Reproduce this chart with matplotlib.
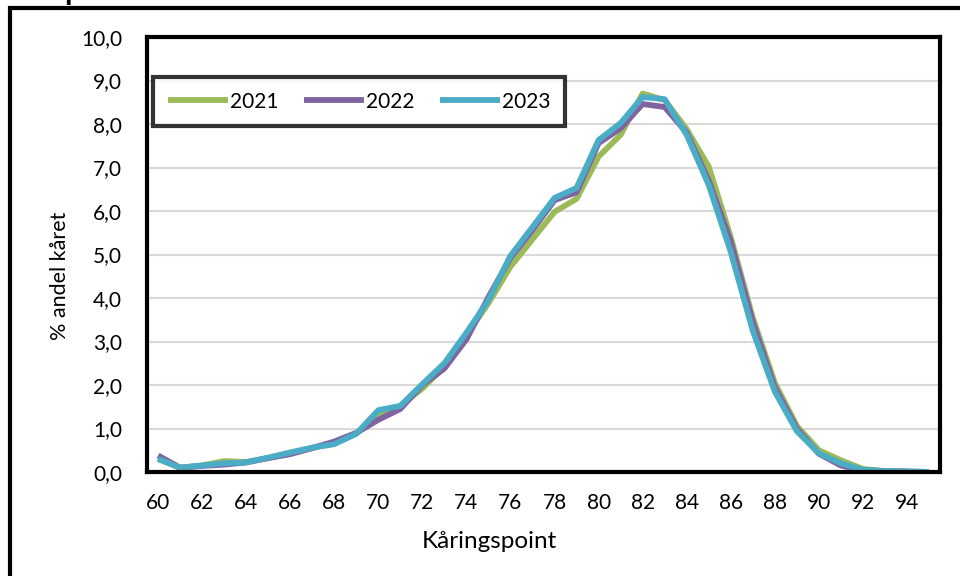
import matplotlib
matplotlib.use("Agg")
import matplotlib.pyplot as plt
from matplotlib.lines import Line2D
import numpy as np

plt.rcParams['font.family'] = ['Lato', 'DejaVu Sans']

points = list(range(60, 96))
y2021 = [0.3, 0.1, 0.15, 0.25, 0.23, 0.32, 0.43, 0.55, 0.66, 0.88, 1.3, 1.52, 1.92, 2.42, 3.15, 3.88,
         4.72, 5.35, 5.98, 6.28, 7.25, 7.75, 8.7, 8.55, 7.88, 7.02, 5.4, 3.55, 2.05, 1.06, 0.5, 0.27,
         0.07, 0.02, 0.01, 0.0]
y2022 = [0.38, 0.1, 0.14, 0.17, 0.22, 0.32, 0.41, 0.55, 0.7, 0.9, 1.2, 1.45, 2.0, 2.38, 3.05, 4.02,
         4.92, 5.56, 6.25, 6.43, 7.56, 7.9, 8.46, 8.39, 7.8, 6.7, 5.3, 3.45, 1.95, 1.0, 0.42, 0.15,
         0.04, 0.02, 0.01, 0.0]
y2023 = [0.3, 0.1, 0.15, 0.2, 0.22, 0.33, 0.45, 0.56, 0.64, 0.88, 1.42, 1.52, 2.02, 2.5, 3.2, 3.95,
         4.97, 5.63, 6.3, 6.53, 7.63, 8.02, 8.62, 8.57, 7.75, 6.6, 5.06, 3.25, 1.85, 0.94, 0.43, 0.2,
         0.05, 0.02, 0.01, 0.0]
series = [("2021", y2021, "#9BBB59"), ("2022", y2022, "#8064A2"), ("2023", y2023, "#4BACC6")]
xtick_labels = [str(v) for v in range(60, 96, 2)]
ytick_vals = [i for i in range(0, 11)]

fig = plt.figure(figsize=(9.6, 5.76), dpi=100)
ax = fig.add_axes([147/960, 1-472/576, (940-147)/960, (472-37)/576])

for name, vals, col in series:
    ax.plot(points, vals, color=col, lw=4.2, label=name, solid_joinstyle='round', solid_capstyle='butt')

ax.set_xlim(59.5, 95.5)
ax.set_ylim(0, 10)
ax.set_yticks(ytick_vals)
ax.set_yticklabels([f"{v:.1f}".replace('.', ',') for v in ytick_vals])
ax.set_xticks(range(60, 96, 2))
ax.set_xticklabels(xtick_labels)
ax.tick_params(axis='both', length=0, labelsize=15)
ax.tick_params(axis='x', pad=15)
ax.tick_params(axis='y', pad=18)
ax.yaxis.grid(True, color='#D9D9D9', lw=1.5)
ax.set_axisbelow(True)
for s in ax.spines.values():
    s.set_color('black')
    s.set_linewidth(3)

ax.set_ylabel('% andel kåret', fontsize=15.5)
ax.yaxis.set_label_coords((70-147)/793, (472-276)/435)
ax.set_xlabel('Kåringspoint', fontsize=17.5)
ax.xaxis.set_label_coords((489-147)/793, (472-531)/435)

leg = ax.legend(loc='upper left', bbox_to_anchor=(6/793, (472-77)/435), ncol=3, fontsize=15,
                frameon=True, fancybox=False, handlelength=2.9, handletextpad=0.1,
                columnspacing=1.2, borderpad=0.7, borderaxespad=0)
leg.get_frame().set_edgecolor('black')
leg.get_frame().set_linewidth(3)
for t in leg.get_texts():
    t.set_color('black')

# outer chart frame
fig.add_artist(Line2D([9.5/960, 9.5/960, 1.0], [0.0, 1-8/576, 1-8/576],
                      transform=fig.transFigure, color='black', lw=3, solid_joinstyle='miter'))
# clipped title remnant
fig.text(64/960, 1.0, 'p', fontsize=22, fontweight='bold', ha='left', va='baseline')

fig.savefig('out.png', dpi=100)
